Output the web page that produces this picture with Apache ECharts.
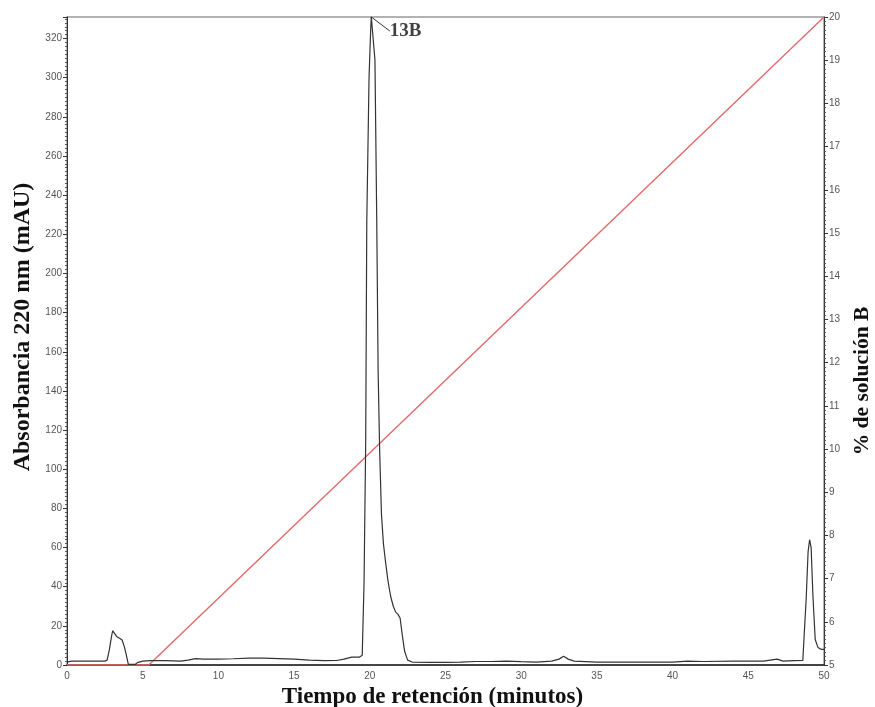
<!DOCTYPE html>
<html>
<head>
<meta charset="utf-8">
<script src="https://cdn.jsdelivr.net/npm/echarts@6/dist/echarts.min.js"></script>
<style>html,body{margin:0;padding:0;background:#fff;overflow:hidden}#c{width:875px;height:707px}</style>
</head>
<body>
<div id="c"></div>
<script>
// Chromatogram trace: retention time (min) and absorbance at 220 nm (mAU)
const traceTime = [0, 0.3, 1, 1.8, 2.5, 2.65, 2.8, 2.95, 3.02, 3.15, 3.3, 3.5, 3.64, 3.8, 3.95, 4.05, 4.5, 4.65, 5.0, 5.5,
  6.5, 7.5, 8.0, 8.5, 9.0, 10, 11, 12, 13, 14, 15, 16, 17, 17.8, 18.3, 18.8, 19.3, 19.5, 19.62, 19.73,
  19.8, 19.95, 20.06, 20.1, 20.2, 20.34, 20.46, 20.55, 20.65, 20.77, 20.9, 21.05, 21.2, 21.38, 21.55, 21.71, 21.85, 22.0, 22.15, 22.3,
  22.5, 22.8, 24, 25, 26, 27, 28, 29, 30, 31, 32, 32.5, 32.8, 33.1, 33.5, 35, 37, 40, 41, 42,
  44, 46, 46.9, 47.3, 48, 48.6, 48.7, 48.83, 48.95, 49.05, 49.15, 49.27, 49.42, 49.6, 49.8, 50];
const traceAbs = [1.5, 2, 2, 2, 2, 2.5, 8, 15, 17.5, 16, 14.4, 13.5, 12.8, 9, 4, 0.3, 0.3, 1.2, 2, 2.2,
  2.2, 2, 2.5, 3.3, 3, 3, 3.2, 3.5, 3.5, 3.3, 3, 2.5, 2.2, 2.3, 3, 4, 4, 5, 42, 115,
  226, 300, 325, 331, 331, 309, 226, 150, 110, 77, 62, 52, 43, 35, 30, 27, 26, 24, 15, 7,
  2.5, 1.5, 1.3, 1.3, 1.5, 1.8, 1.8, 2, 1.7, 1.5, 2, 3, 4.5, 3, 2, 1.5, 1.5, 1.5, 2, 1.8,
  2, 2, 3, 2, 2.2, 2.3, 3, 35, 58, 64, 60, 35, 13, 9, 8, 8];

// Gradient program: % of solution B
const gradTime = [0, 5.4, 50];
const gradPct = [5, 5, 20];

const peakLabel = '13B';
const peakIndex = 43;

const xTitle = 'Tiempo de retención (minutos)';
const yLeftTitle = 'Absorbancia 220 nm (mAU)';
const yRightTitle = '% de solución B';

const traceData = traceTime.map((t, i) => [t, traceAbs[i]]);
const gradData = gradTime.map((t, i) => [t, gradPct[i]]);
const peakData = [[traceTime[peakIndex], traceAbs[peakIndex]]];

const tickFont = { fontFamily: 'Liberation Sans, Arial, sans-serif', fontSize: 10, color: '#555' };
const serif = 'Liberation Serif, Times New Roman, serif';

const chart = echarts.init(document.getElementById('c'), null, { renderer: 'canvas' });
chart.setOption({
  animation: false,
  backgroundColor: '#fff',
  grid: { left: 67, right: 51, top: 17, bottom: 42, containLabel: false, outerBoundsMode: 'none',
    show: true, borderColor: '#999', borderWidth: 1.5, backgroundColor: 'transparent' },
  xAxis: {
    type: 'value', min: 0, max: 50, interval: 5,
    name: xTitle, nameLocation: 'middle', nameGap: 9,
    nameTextStyle: { fontFamily: serif, fontWeight: 'bold', fontSize: 23, color: '#111', padding: [0, 26, 0, 0] },
    axisLine: { show: true, lineStyle: { color: '#222', width: 1.5 } },
    axisTick: { show: false },
    axisLabel: Object.assign({ margin: 6 }, tickFont),
    splitLine: { show: false }
  },
  yAxis: [
    {
      type: 'value', min: 0, max: 331, interval: 20, position: 'left',
      name: yLeftTitle, nameLocation: 'middle', nameGap: 29,
      nameTextStyle: { fontFamily: serif, fontWeight: 'bold', fontSize: 24, color: '#111', padding: [0, 0, 0, 28] },
      axisLine: { show: true, lineStyle: { color: '#333', width: 1 } },
      axisTick: { show: true, length: 4, lineStyle: { color: '#333' } },
      minorTick: { show: true, splitNumber: 10, length: 2, lineStyle: { color: '#555' } },
      axisLabel: Object.assign({ margin: 5, showMaxLabel: false }, tickFont),
      splitLine: { show: false }
    },
    {
      type: 'value', min: 5, max: 20, interval: 1, position: 'right',
      name: yRightTitle, nameLocation: 'middle', nameGap: 21,
      nameTextStyle: { fontFamily: serif, fontWeight: 'bold', fontSize: 21.5, color: '#111', padding: [0, 80, 0, 0] },
      axisLine: { show: true, lineStyle: { color: '#333', width: 1 } },
      axisTick: { show: true, length: 4, lineStyle: { color: '#333' } },
      minorTick: { show: true, splitNumber: 10, length: 2, lineStyle: { color: '#555' } },
      axisLabel: Object.assign({ margin: 5 }, tickFont),
      splitLine: { show: false }
    }
  ],
  series: [
    {
      name: 'Gradiente', type: 'line', yAxisIndex: 1, data: gradData,
      showSymbol: false, symbol: 'none',
      lineStyle: { color: '#e46a6a', width: 1.4 },
      z: 2
    },
    {
      name: 'Absorbancia', type: 'line', yAxisIndex: 0, data: traceData,
      symbol: 'none', showSymbol: false, smooth: false,
      lineStyle: { color: '#333', width: 1.2 },
      z: 3
    },
    {
      name: 'Pico', type: 'scatter', yAxisIndex: 0, data: peakData,
      symbolSize: 1, itemStyle: { color: '#333' },
      label: { show: true, formatter: peakLabel, position: 'right', distance: 5,
        fontFamily: serif, fontWeight: 'bold', fontSize: 19, color: '#111' },
      labelLine: { show: true, lineStyle: { color: '#333', width: 1 } },
      labelLayout: { dx: 13, dy: 14 },
      z: 4
    }
  ]
});
</script>
</body>
</html>
